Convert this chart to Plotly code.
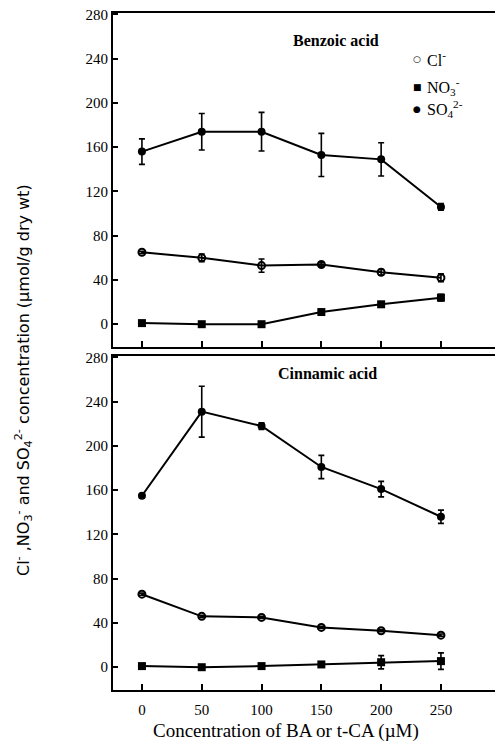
import plotly.graph_objects as go

conc = [0, 50, 100, 150, 200, 250]

# Benzoic acid panel
ba_cl = [65, 60, 53, 54, 47, 42]
ba_cl_err = [1, 3.5, 6, 1.5, 2.5, 3.5]
ba_no3 = [1, 0, 0, 11, 18, 24]
ba_no3_err = [1, 1, 1, 1.5, 1.5, 3]
ba_so4 = [156, 174, 174, 153, 149, 106]
ba_so4_err = [11.5, 16.5, 17.5, 19.5, 15, 3]

# Cinnamic acid panel
ca_cl = [66, 46, 45, 36, 33, 29]
ca_cl_err = [1, 1, 1, 1, 1, 1]
ca_no3 = [1, 0, 1, 2.5, 4.5, 5.5]
ca_no3_err = [1, 1, 1, 1.5, 6, 7.5]
ca_so4 = [155, 231, 218, 181, 161, 136]
ca_so4_err = [1, 23, 3, 10.5, 7, 6]

y_ticks = [0, 40, 80, 120, 160, 200, 240, 280]

L, R, T, B = 113, 0, 13, 61
W, H = 495, 751
pw, ph = W - L - R, H - T - B


def px(x):
    return (x - L) / pw


def py(y):
    return (H - B - y) / ph


SERIF = "Liberation Serif"
fig = go.Figure()


def add_panel(xa, ya, cl, cle, no3, no3e, so4, so4e):
    common = dict(xaxis=xa, yaxis=ya, mode="lines+markers", showlegend=False,
                  line=dict(color="black", width=2))
    eb = dict(type="data", visible=True, color="black", thickness=1.6, width=3)
    fig.add_trace(go.Scatter(x=conc, y=so4, error_y=dict(array=so4e, **eb),
                             marker=dict(symbol="circle", size=8, color="black"), **common))
    fig.add_trace(go.Scatter(x=conc, y=cl, error_y=dict(array=cle, **eb),
                             marker=dict(symbol="circle-open", size=7, color="black",
                                         line=dict(width=2, color="black")), **common))
    fig.add_trace(go.Scatter(x=conc, y=no3, error_y=dict(array=no3e, **eb),
                             marker=dict(symbol="square", size=8, color="black"), **common))


add_panel("x2", "y2", ba_cl, ba_cl_err, ba_no3, ba_no3_err, ba_so4, ba_so4_err)
add_panel("x", "y", ca_cl, ca_cl_err, ca_no3, ca_no3_err, ca_so4, ca_so4_err)

xr = [-24.2, 295.2]
yr = [-20.6, 281.3]
top_dom = [py(347), 1]
bot_dom = [0, py(356)]

ax_common = dict(showgrid=False, zeroline=False, showline=True, linecolor="black",
                 linewidth=2, ticks="inside", tickcolor="black", tickwidth=1.5,
                 tickfont=dict(family=SERIF, size=15, color="black"))

fig.update_layout(
    width=W, height=H,
    margin=dict(l=L, r=R, t=T, b=B, pad=0),
    paper_bgcolor="white", plot_bgcolor="white",
    xaxis=dict(domain=[0, 1], anchor="y", range=xr, tickvals=conc, ticklen=6,
               mirror=True, ticklabelstandoff=5, **ax_common),
    yaxis=dict(domain=bot_dom, anchor="x", range=yr, tickvals=y_ticks, ticklen=5,
               **ax_common),
    xaxis2=dict(domain=[0, 1], anchor="y2", range=xr, tickvals=conc, ticklen=6,
                mirror=True, showticklabels=False, **ax_common),
    yaxis2=dict(domain=top_dom, anchor="x2", range=yr, tickvals=y_ticks, ticklen=5,
                **ax_common),
)

ann = []


def note(text, x, y, size, family=SERIF, xanchor="center", **kw):
    ann.append(dict(text=text, x=px(x), y=py(y), xref="paper", yref="paper",
                    xanchor=xanchor, yanchor="middle", showarrow=False,
                    font=dict(family=family, size=size, color="black"), **kw))


note("<b>Benzoic acid</b>", 336, 40, 16)
note("<b>Cinnamic acid</b>", 327, 373, 16)

# legend
leg = [("○", "Cl<sup>-</sup>", 59), ("■", "NO<sub>3</sub><sup>-</sup>", 87),
       ("●", "SO<sub>4</sub><sup>2-</sup>", 109)]
for sym, lab, yy in leg:
    note(sym, 417, yy, 9, family="DejaVu Sans")
    note(lab, 425, yy, 16, xanchor="left")

note("Concentration of BA or t-CA (µM)", 286, 731, 19)
note("Cl<sup>-</sup> ,NO<sub>3</sub><sup>-</sup> and SO<sub>4</sub><sup>2-</sup> concentration (µmol/g dry wt)",
     24, 380, 16, family="DejaVu Sans", textangle=-90)
fig.update_layout(annotations=ann)

fig.write_html("out.html")
